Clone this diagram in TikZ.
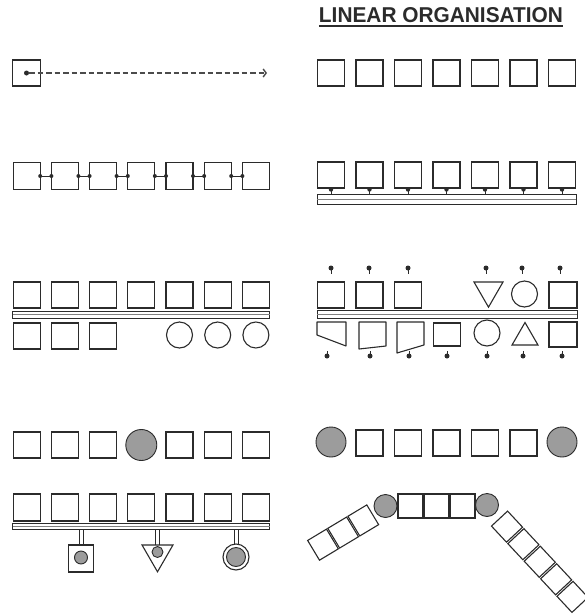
\documentclass[tikz,border=0pt]{standalone}
\usepackage{fontspec}
\setsansfont{Liberation Sans}
\usepackage{graphicx}
\usetikzlibrary{shapes.geometric,arrows.meta}
\definecolor{ink}{HTML}{2B2B2B}
\definecolor{shade}{HTML}{9C9C9C}
\begin{document}
\begin{tikzpicture}[x=1pt,y=-1pt,
  every node/.style={inner sep=0pt, outer sep=0pt},
  sq/.style={draw=ink, line width=1.1pt, minimum width=27pt, minimum height=26pt},
  ring/.style={draw=ink, line width=1.1pt, circle},
  ball/.style={draw=ink, line width=0.9pt, circle, fill=shade},
  tridown/.style={draw=ink, line width=1.1pt, regular polygon, regular polygon sides=3, shape border rotate=180},
  triup/.style={draw=ink, line width=1.1pt, regular polygon, regular polygon sides=3},
  barbox/.style={draw=ink, line width=0.9pt},
  link/.style={draw=ink, line width=1.0pt},
  inner/.style={draw=ink!60, line width=0.6pt},
  dashline/.style={draw=ink!85, line width=1.4pt, dash pattern=on 5.5pt off 3pt, -{Straight Barb[length=3pt,width=8pt,line width=1.4pt]}},
  pindot/.style={circle, fill=ink, minimum size=5pt}
]
\useasboundingbox (0,0) rectangle (585,616);

% title
\node[font=\sffamily\bfseries, text=ink] (title) at (441,15) {\resizebox{244pt}{15pt}{LINEAR ORGANISATION}};
\draw[ink, line width=1.4pt] ([yshift=-3.5pt]title.south west) -- ([yshift=-3.5pt]title.south east);

% row 1 left
\node[sq, minimum width=28pt] (s0) at (26.5,73) {};
\node[pindot] (d0) at (26.5,73) {};
\coordinate (e0) at (267,73);
\draw[dashline] (d0) -- (e0);

% row 1 right
\foreach \i in {0,...,6} \node[sq] (ra-\i) at ({331+38.5*\i},73) {};

% row 2 left
\foreach \i in {0,...,6} \node[sq, minimum height=27pt] (lb-\i) at ({26.7+38.2*\i},176) {};
\foreach \i in {0,...,5} {
  \pgfmathtruncatemacro{\j}{\i+1}
  \draw[link] (lb-\i.east) -- (lb-\j.west);
  \fill[ink] (lb-\i.east) circle[radius=2pt];
  \fill[ink] (lb-\j.west) circle[radius=2pt];
}

% row 2 right
\foreach \i in {0,...,6} \node[sq] (rb-\i) at ({331+38.5*\i},175) {};
\node[barbox, minimum width=259pt, minimum height=10pt] (bar2) at (446.5,199) {};
\draw[inner] (bar2.west) -- (bar2.east);
\foreach \i in {0,...,6} {
  \draw[link] (rb-\i.south) -- (rb-\i.south |- bar2.north);
  \fill[ink] ([yshift=-1.5pt]rb-\i.south) circle[radius=2.2pt];
}

% row 3 left
\foreach \i in {0,...,6} \node[sq] (lc-\i) at ({26.7+38.2*\i},295) {};
\node[barbox, minimum width=257pt, minimum height=7pt] (bar3l) at (141.3,314.5) {};
\draw[inner] (bar3l.west) -- (bar3l.east);
\foreach \i in {0,1,2} \node[sq] (ld-\i) at ({26.7+38.2*\i},336) {};
\foreach \i in {4,5,6} \node[ring, minimum size=26pt] (ld-\i) at ({26.7+38.2*\i},335) {};

% row 3 right top
\foreach \i in {0,1,2} \node[sq] (rc-\i) at ({331+38.5*\i},295) {};
\node[tridown, minimum size=33.5pt] (rc-4) at (488.5,290.4) {};
\node[ring, minimum size=26pt] (rc-5) at (524.5,294) {};
\node[sq, minimum width=28pt] (rc-6) at (563,295) {};
\node[barbox, minimum width=260pt, minimum height=8pt] (bar3r) at (447,314) {};
\draw[inner] (bar3r.west) -- (bar3r.east);
% top pins
\foreach \n/\x in {0/331,1/369,2/408,4/486,5/522,6/560} {
  \node[pindot] (tp-\n) at (\x,268) {};
  \draw[link] (tp-\n.center) -- ++(0,6);
}

% row 3 right bottom shapes
\draw[ink, line width=1.1pt, line join=round] (317,322) -- (346,322) -- (346,346) -- (317,335) -- cycle;
\draw[ink, line width=1.1pt, line join=round] (359,322) -- (386,322) -- (386,346) -- (359,349) -- cycle;
\draw[ink, line width=1.1pt, line join=round] (397,322) -- (424,322) -- (424,345) -- (397,353) -- cycle;
\node[sq, minimum width=27pt, minimum height=23pt] (rd-3) at (447,334.5) {};
\node[ring, minimum size=26pt] (rd-4) at (487,333) {};
\node[triup, minimum size=30pt] (rd-5) at (525,337.5) {};
\node[sq, minimum width=28pt, minimum height=25pt] (rd-6) at (563,334.5) {};
% bottom pins
\foreach \n/\x in {0/327,1/370,2/409,3/447,4/487,5/523,6/562} {
  \node[pindot] (bp-\n) at (\x,356) {};
  \draw[link] (bp-\n.center) -- ++(0,-5);
}

% row 4 left
\foreach \i in {0,1,2,4,5,6} \node[sq] (le-\i) at ({26.7+38.2*\i},445) {};
\node[ball, minimum size=31pt] (le-3) at (141.3,445) {};

% row 4 right
\node[ball, minimum size=30pt] (re-0) at (331,442) {};
\foreach \i in {1,...,5} \node[sq] (re-\i) at ({331+38.5*\i},443) {};
\node[ball, minimum size=30pt] (re-6) at (562,442) {};

% row 5 left
\foreach \i in {0,...,6} \node[sq, minimum height=27pt] (lf-\i) at ({26.7+38.2*\i},507.5) {};
\node[barbox, minimum width=257pt, minimum height=6.5pt] (bar5) at (141.3,526.5) {};
\draw[inner] (bar5.west) -- (bar5.east);
% pendants
\node[sq, minimum width=25pt, minimum height=27pt] (pa) at (81,558.5) {};
\node[ball, minimum size=13pt] (ga) at (81,557.5) {};
\node[tridown, minimum size=35.8pt] (pb) at (157.5,553.9) {};
\node[ball, minimum size=11pt] (gb) at (157.5,552) {};
\node[ring, minimum size=26pt] (pc) at (236,557) {};
\node[ball, minimum size=19pt] (gc) at (236,557) {};
\foreach \p in {pa,pb,pc} {
  \draw[link, line width=0.9pt] ([xshift=-2pt]\p.90) -- ([xshift=-2pt]\p.90 |- bar5.south);
  \draw[link, line width=0.9pt] ([xshift=2pt]\p.90) -- ([xshift=2pt]\p.90 |- bar5.south);
}

% row 5 right
\node[ball, minimum size=23pt] (rf-0) at (385.5,506) {};
\foreach \i/\x in {1/410.5,2/436.5,3/462.5} \node[sq, minimum width=25pt, minimum height=24pt] (rf-\i) at (\x,506) {};
\node[ball, minimum size=23pt] (rf-4) at (487,505) {};

% left arm
\begin{scope}[shift={(374,514)}, rotate=31]
  \foreach \k in {0,1,2} \node[sq, transform shape, minimum width=22pt, minimum height=23pt] (la-\k) at ({-12.5-23.5*\k},0) {};
\end{scope}
% right arm
\begin{scope}[shift={(498.5,517.5)}, rotate=-47]
  \foreach \k in {0,...,4} \node[sq, transform shape, minimum width=22pt, minimum height=22pt] (lb2-\k) at ({12.5+24*\k},0) {};
\end{scope}
\end{tikzpicture}
\end{document}
